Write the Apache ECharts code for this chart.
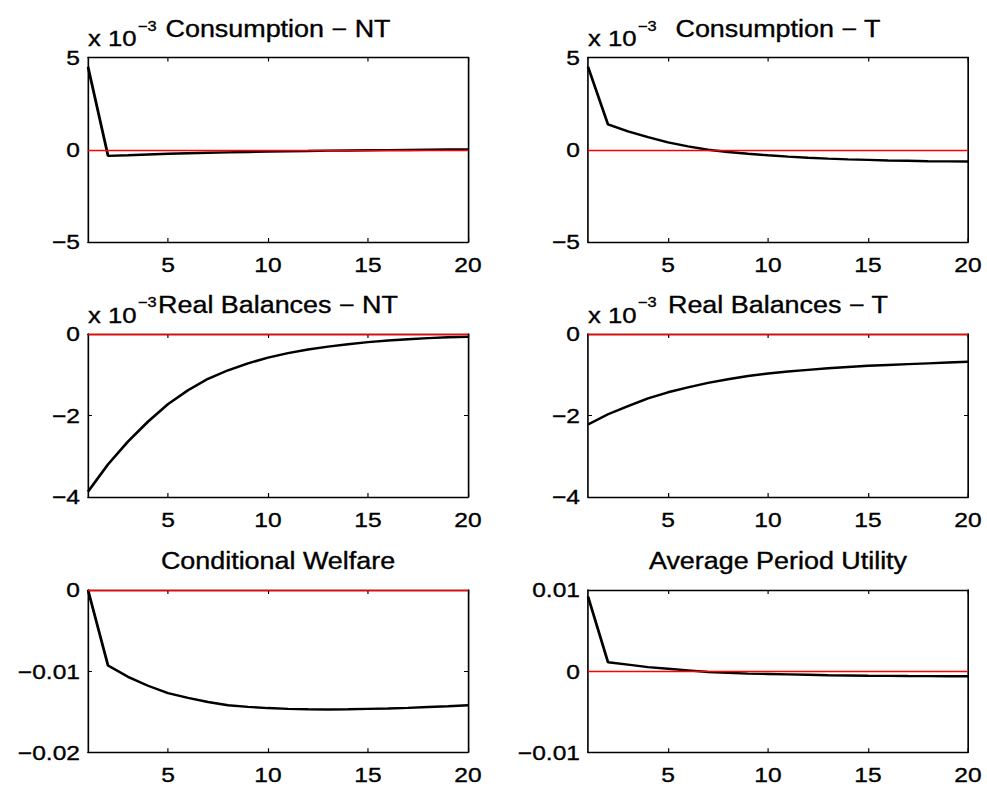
<!DOCTYPE html>
<html>
<head>
<meta charset="utf-8">
<script src="https://cdn.jsdelivr.net/npm/echarts@6/dist/echarts.min.js"></script>
<style>
  html, body { margin: 0; padding: 0; background: #fff; overflow: hidden; }
  #chart { position: absolute; left: 0; top: 0; height: 789px; transform-origin: 0 0; }
</style>
</head>
<body>
<div id="chart"></div>
<script>
// Impulse responses over 20 periods
const periods = [1, 2, 3, 4, 5, 6, 7, 8, 9, 10, 11, 12, 13, 14, 15, 16, 17, 18, 19, 20];
const xTickValues = [5, 10, 15, 20];

// values in units of 10^-3
const consumptionNT = [4.5, -0.33, -0.30, -0.26, -0.22, -0.19, -0.16, -0.14, -0.12, -0.10,
                       -0.08, -0.07, -0.05, -0.04, -0.03, -0.02, -0.01, 0.0, 0.01, 0.02];
const consumptionT = [4.5, 1.37, 1.0, 0.68, 0.40, 0.18, 0.0, -0.12, -0.22, -0.30,
                      -0.37, -0.43, -0.48, -0.52, -0.55, -0.58, -0.60, -0.62, -0.63, -0.64];
const realBalancesNT = [-3.87, -3.2, -2.64, -2.15, -1.72, -1.38, -1.10, -0.89, -0.72, -0.58,
                        -0.47, -0.38, -0.31, -0.25, -0.20, -0.16, -0.13, -0.10, -0.08, -0.07];
const realBalancesT = [-2.22, -1.97, -1.77, -1.58, -1.43, -1.31, -1.20, -1.11, -1.03, -0.97,
                       -0.92, -0.88, -0.84, -0.81, -0.78, -0.76, -0.74, -0.72, -0.70, -0.68];
// plain units
const conditionalWelfare = [0, -0.0093, -0.0107, -0.0118, -0.0127, -0.0133, -0.0138, -0.0142, -0.0144, -0.01455,
                            -0.01465, -0.0147, -0.01472, -0.0147, -0.01465, -0.0146, -0.01452, -0.01442, -0.01432, -0.0142];
const averagePeriodUtility = [0.0092, 0.0011, 0.0008, 0.0005, 0.0003, 0.0001, -0.0001, -0.0002, -0.0003, -0.00035,
                              -0.0004, -0.00045, -0.0005, -0.00053, -0.00056, -0.00058, -0.0006, -0.00061, -0.00062, -0.00062];

const panelTitles = ['Consumption − NT', 'Consumption − T', 'Real Balances − NT', 'Real Balances − T',
                     'Conditional Welfare', 'Average Period Utility'];
const panelSeries = [consumptionNT, consumptionT, realBalancesNT, realBalancesT, conditionalWelfare, averagePeriodUtility];
const yMins = [-5, -5, -4, -4, -0.02, -0.01];
const yMaxs = [5, 5, 0, 0, 0, 0.01];
const ySteps = [5, 5, 2, 2, 0.01, 0.01];
const scaledByThousand = [true, true, true, true, false, false];

// The figure is drawn narrower and stretched sideways, giving the wide glyphs of the exported plot.
const STRETCH = 1.17;
const W = 987 / STRETCH;
const dom = document.getElementById('chart');
dom.style.width = W + 'px';
dom.style.transform = 'scaleX(' + STRETCH + ')';

const FONT = "'Liberation Sans', Arial, Helvetica, sans-serif";
const TICK_FS = 21, TITLE_FS = 23, NOTE_FS = 22, SUP_FS = 14;
const TEXT_EDGE = 0.35;   // slight outline for a heavier print weight

// axes boxes in final picture pixels
const colLeft = [88, 588], colRight = [468, 968];
const rowTop = [57.5, 334, 590], rowBottom = [242, 497, 752.3];

function fmtY(v) {
  if (Math.abs(v) < 1e-12) return '0';
  return String(parseFloat(v.toFixed(4))).replace('-', '−');
}

const measureCtx = document.createElement('canvas').getContext('2d');
measureCtx.font = NOTE_FS + 'px ' + FONT;
const baseWidth = measureCtx.measureText('x 10').width;

function textStyle(text, size, align, vAlign) {
  return { text: text, font: size + 'px ' + FONT, fill: '#000', stroke: '#000', lineWidth: TEXT_EDGE,
           align: align, verticalAlign: vAlign, textAlign: align, textVerticalAlign: vAlign };
}

const grids = [], xAxes = [], yAxes = [], series = [], graphics = [];
for (let i = 0; i < 6; i++) {
  const c = i % 2, r = Math.floor(i / 2);
  const left = colLeft[c] / STRETCH;
  const width = (colRight[c] - colLeft[c]) / STRETCH;
  const top = rowTop[r];
  const height = rowBottom[r] - rowTop[r];
  grids.push({ left: left, top: top, width: width, height: height, containLabel: false });

  const lineStyle = { color: '#000', width: 1.4 };
  const labelBase = { color: '#000', fontSize: TICK_FS, fontFamily: FONT,
                      textBorderColor: '#000', textBorderWidth: TEXT_EDGE };
  const xBase = {
    type: 'value', gridIndex: i, min: 1, max: 20,
    axisLine: { show: true, onZero: false, lineStyle: lineStyle },
    axisTick: { show: true, inside: true, length: 4, customValues: xTickValues, lineStyle: { color: '#000', width: 1 } },
    splitLine: { show: false }
  };
  xAxes.push(Object.assign({}, xBase, {
    position: 'bottom',
    axisLabel: Object.assign({ show: true, customValues: xTickValues, margin: 12 }, labelBase)
  }));
  xAxes.push(Object.assign({}, xBase, { position: 'top', axisLabel: { show: false } }));

  const yBase = {
    type: 'value', gridIndex: i, min: yMins[i], max: yMaxs[i], interval: ySteps[i],
    axisLine: { show: true, onZero: false, lineStyle: lineStyle },
    axisTick: { show: true, inside: true, length: 4 / STRETCH, lineStyle: { color: '#000', width: 1 } },
    splitLine: { show: false }
  };
  yAxes.push(Object.assign({}, yBase, {
    position: 'left',
    axisLabel: Object.assign({ show: true, margin: 8 / STRETCH, showMinLabel: true, showMaxLabel: true,
                               formatter: fmtY }, labelBase)
  }));
  yAxes.push(Object.assign({}, yBase, { position: 'right', axisLabel: { show: false } }));

  const vals = panelSeries[i];
  series.push({
    type: 'line', xAxisIndex: 2 * i, yAxisIndex: 2 * i,
    data: periods.map((p, j) => [p, vals[j]]),
    symbol: 'none', smooth: false, clip: false,
    lineStyle: { color: '#000', width: 2.4 }, z: 3
  });
  // zero reference line
  series.push({
    type: 'line', xAxisIndex: 2 * i, yAxisIndex: 2 * i, data: [], z: 4,
    markLine: {
      silent: true, symbol: ['none', 'none'], label: { show: false }, animation: false,
      lineStyle: { color: '#ff0000', width: 1.3, type: 'solid', opacity: 1 },
      data: [{ yAxis: 0 }]
    }
  });

  // panel title
  graphics.push({
    type: 'text', x: (colLeft[c] + colRight[c]) / 2 / STRETCH, y: top - 29,
    style: textStyle(panelTitles[i], TITLE_FS, 'center', 'middle')
  });
  // axis exponent note
  if (scaledByThousand[i]) {
    graphics.push({ type: 'text', x: left, y: top - 19, style: textStyle('x 10', NOTE_FS, 'left', 'middle') });
    graphics.push({ type: 'text', x: left + baseWidth + 1, y: top - 32, style: textStyle('−3', SUP_FS, 'left', 'middle') });
  }
}

const chart = echarts.init(dom, null, { renderer: 'svg' });
chart.setOption({
  backgroundColor: '#fff',
  animation: false,
  grid: grids,
  xAxis: xAxes,
  yAxis: yAxes,
  series: series,
  graphic: graphics
});
</script>
</body>
</html>
